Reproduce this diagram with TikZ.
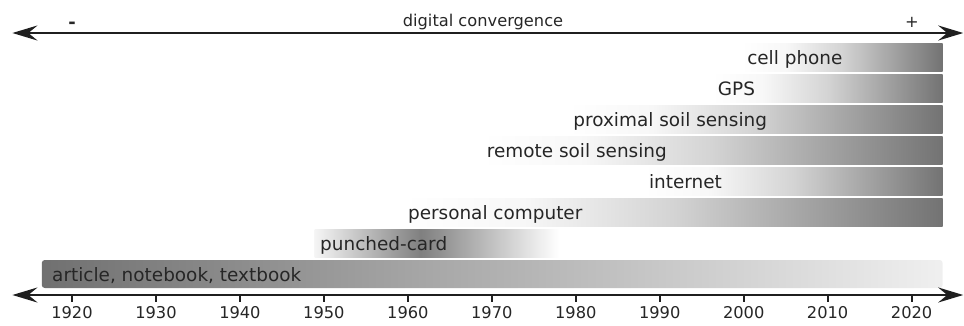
\documentclass[tikz,border=0pt]{standalone}
\usepackage{fontspec}
\setmainfont{DejaVu Sans}
\usetikzlibrary{arrows.meta,positioning}

% the middle 25bp..75bp is what lands on the path
\pgfdeclarehorizontalshading{fadein}{100bp}{color(0bp)=(white); color(25bp)=(white); color(36bp)=(black!3); color(50bp)=(black!17); color(75bp)=(black!55); color(100bp)=(black!55)}
\pgfdeclarehorizontalshading{punchfade}{100bp}{color(0bp)=(black!4); color(25bp)=(black!4); color(45bp)=(black!50); color(71bp)=(white); color(100bp)=(white)}

\begin{document}
\begin{tikzpicture}[
        x=8.396bp, y=-1bp,
        barsty/.style={
            shading=fadein,
        },
        lblsty/.style={
            anchor=base west, inner sep=0, text=black!85,
            font=\fontsize{18.5}{20}\selectfont,
        },
        yrsty/.style={
            inner sep=0, text=black!85,
            font=\fontsize{16.3}{18}\selectfont,
        },
        axissty/.style={
            {Stealth[length=25bp,width=15bp,inset=9bp]}-{Stealth[length=25bp,width=15bp,inset=9bp]},
            line width=2.7bp, black!88
        },
        ticksty/.style={
            line width=2bp, black!88
        }
    ]
    \useasboundingbox (11.4245,0) rectangle (126.2405,325);

    % x is in years after 1900
    \foreach \nm/\a/\t/\b/\row/\txt in {
        cell/99.8/100.4/123.7/0/cell phone,
        gps/96.3/96.9/123.7/1/GPS,
        prox/79.1/79.7/123.7/2/proximal soil sensing,
        remote/68.8/69.4/123.7/3/remote soil sensing,
        inet/88.1/88.7/123.7/4/internet,
        pc/59.5/60.0/123.7/5/personal computer}{
        \shade[barsty] (\a,43+31*\row) rectangle (\b,71+31*\row);
        \node[lblsty] (\nm) at (\t,64+31*\row) {\txt};
    }
    \shade[shading=punchfade] (48.9,229) rectangle (80.5,257);
    \node[lblsty] (punch) at (49.54,250) {punched-card};
    \shade[left color=black!56, right color=black!6, rounded corners=3bp] (16.4,260) rectangle (123.7,288);
    \node[lblsty] (book) at (17.62,281) {article, notebook, textbook};

    % convergence axis
    \coordinate (tl) at (12.9,33);
    \coordinate (tr) at (126.15,33);
    \draw[axissty] (tl) -- (tr);
    \node[yrsty, anchor=base] (conv) at (68.95,26) {digital convergence};
    \node[yrsty, font=\fontsize{18}{20}\bfseries] (minus) at (20,25.5) {-};
    \node[yrsty] (plus) at (120.05,22.5) {+};

    % time axis
    \coordinate (bl) at (12.9,295);
    \coordinate (br) at (126.15,295);
    \draw[axissty] (bl) -- (br);
    \foreach \yr in {1920,1930,...,2020}{
        \coordinate (t\yr) at (\yr-1900,295);
        \draw[ticksty] (t\yr) -- ++(0,7);
        \node[yrsty, below=11bp of t\yr] (y\yr) {\yr};
    }
\end{tikzpicture}
\end{document}
